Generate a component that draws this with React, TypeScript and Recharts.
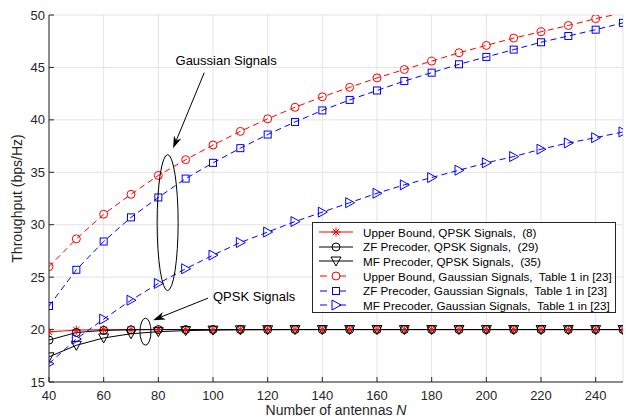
import React from 'react';
import {
  CartesianGrid,
  Line,
  LineChart,
  ReferenceDot,
  ReferenceLine,
  XAxis,
  YAxis,
} from 'recharts';

const antennas = [40, 50, 60, 70, 80, 90, 100, 110, 120, 130, 140, 150, 160, 170, 180, 190, 200, 210, 220, 230, 240, 250];

const upperQpsk = [19.78, 19.95, 19.99, 20, 20, 20, 20, 20, 20, 20, 20, 20, 20, 20, 20, 20, 20, 20, 20, 20, 20, 20];
const zfQpsk = [19.0, 19.72, 19.92, 19.98, 20, 20, 20, 20, 20, 20, 20, 20, 20, 20, 20, 20, 20, 20, 20, 20, 20, 20];
const mfQpsk = [17.4, 18.5, 19.2, 19.6, 19.8, 19.9, 19.95, 19.98, 19.99, 20, 20, 20, 20, 20, 20, 20, 20, 20, 20, 20, 20, 20];
const upperGauss = [26.0, 28.65, 31.0, 32.9, 34.7, 36.2, 37.6, 38.9, 40.1, 41.2, 42.2, 43.1, 44.0, 44.8, 45.6, 46.4, 47.1, 47.8, 48.4, 49.0, 49.65, 50.2];
const zfGauss = [22.25, 25.7, 28.4, 30.7, 32.6, 34.4, 35.9, 37.3, 38.6, 39.8, 40.9, 41.9, 42.8, 43.7, 44.5, 45.3, 46.0, 46.7, 47.4, 48.0, 48.6, 49.25];
const mfGauss = [16.75, 19.1, 21.0, 22.8, 24.4, 25.8, 27.1, 28.3, 29.3, 30.3, 31.2, 32.1, 33.0, 33.8, 34.5, 35.2, 35.9, 36.5, 37.2, 37.8, 38.3, 38.85];

const xTicks = [40, 60, 80, 100, 120, 140, 160, 180, 200, 220, 240];
const yTicks = [15, 20, 25, 30, 35, 40, 45, 50];

const data = antennas.map((n, i) => ({
  n,
  upperQpsk: upperQpsk[i],
  zfQpsk: zfQpsk[i],
  mfQpsk: mfQpsk[i],
  upperGauss: upperGauss[i],
  zfGauss: zfGauss[i],
  mfGauss: mfGauss[i],
}));

const RED = '#ff0000';
const BLUE = '#0000ff';
const BLACK = '#000000';
const AXIS = '#262626';
const FONT = '"Liberation Sans", Arial, Helvetica, sans-serif';

type MarkerKind = 'star' | 'circle' | 'square' | 'triRight' | 'triDown';

const marker = (kind: MarkerKind, cx: number, cy: number, color: string) => {
  const common = { fill: 'none', stroke: color, strokeWidth: 1, strokeDasharray: 'none' };
  switch (kind) {
    case 'star':
      return (
        <g {...common}>
          <line x1={cx - 4.5} y1={cy} x2={cx + 4.5} y2={cy} />
          <line x1={cx} y1={cy - 4.5} x2={cx} y2={cy + 4.5} />
          <line x1={cx - 3.2} y1={cy - 3.2} x2={cx + 3.2} y2={cy + 3.2} />
          <line x1={cx - 3.2} y1={cy + 3.2} x2={cx + 3.2} y2={cy - 3.2} />
        </g>
      );
    case 'circle':
      return <circle cx={cx} cy={cy} r={4} {...common} />;
    case 'square':
      return <rect x={cx - 3.5} y={cy - 3.5} width={7} height={7} {...common} />;
    case 'triRight':
      return <polygon points={`${cx - 4},${cy - 5} ${cx + 5},${cy} ${cx - 4},${cy + 5}`} {...common} />;
    case 'triDown':
      return <polygon points={`${cx - 5},${cy - 4} ${cx + 5},${cy - 4} ${cx},${cy + 5}`} {...common} />;
  }
};

const makeDot = (kind: MarkerKind, color: string) => (props: any) => {
  const { cx, cy, index } = props;
  if (cx == null || cy == null || cy < 14) return <g key={`d-${index}`} />;
  return <g key={`d-${index}`}>{marker(kind, cx, cy, color)}</g>;
};

const series = [
  { key: 'upperQpsk', color: RED, kind: 'star' as MarkerKind, dashed: false, name: 'Upper Bound, QPSK Signals,  (8)' },
  { key: 'zfQpsk', color: BLACK, kind: 'circle' as MarkerKind, dashed: false, name: 'ZF Precoder, QPSK Signals,  (29)' },
  { key: 'mfQpsk', color: BLACK, kind: 'triDown' as MarkerKind, dashed: false, name: 'MF Precoder, QPSK Signals,  (35)' },
  { key: 'upperGauss', color: RED, kind: 'circle' as MarkerKind, dashed: true, name: 'Upper Bound, Gaussian Signals,  Table 1 in [23]' },
  { key: 'zfGauss', color: BLUE, kind: 'square' as MarkerKind, dashed: true, name: 'ZF Precoder, Gaussian Signals,  Table 1 in [23]' },
  { key: 'mfGauss', color: BLUE, kind: 'triRight' as MarkerKind, dashed: true, name: 'MF Precoder, Gaussian Signals,  Table 1 in [23]' },
];

const Arrow = (props: any) => {
  const { x1, y1, x2, y2 } = props;
  const dx = x2 - x1;
  const dy = y2 - y1;
  const len = Math.sqrt(dx * dx + dy * dy);
  const ux = dx / len;
  const uy = dy / len;
  const hl = 12;
  const hw = 4;
  const bx = x2 - ux * hl;
  const by = y2 - uy * hl;
  const ix = x2 - ux * hl * 0.7;
  const iy = y2 - uy * hl * 0.7;
  return (
    <g>
      <line x1={x1} y1={y1} x2={ix} y2={iy} stroke={BLACK} strokeWidth={1} />
      <polygon
        points={`${x2},${y2} ${bx - uy * hw},${by + ux * hw} ${ix},${iy} ${bx + uy * hw},${by - ux * hw}`}
        fill={BLACK}
      />
    </g>
  );
};

const ellipseShape = (rx: number, ry: number) => (props: any) => (
  <ellipse cx={props.cx} cy={props.cy} rx={rx} ry={ry} fill="none" stroke={BLACK} strokeWidth={1} />
);

const textShape = (text: string, anchor: 'start' | 'middle') => (props: any) => (
  <text x={props.cx} y={props.cy} textAnchor={anchor} dominantBaseline="central" fontSize={13} fontFamily={FONT} fill={BLACK}>
    {text}
  </text>
);

const YLabel = (props: any) => {
  const { viewBox } = props;
  const cx = 17;
  const cy = viewBox.y + viewBox.height / 2;
  return (
    <text x={cx} y={cy} transform={`rotate(-90, ${cx}, ${cy})`} textAnchor="middle" dominantBaseline="central" fontSize={14} fontFamily={FONT} fill={AXIS}>
      Throughput (bps/Hz)
    </text>
  );
};

const XLabel = (props: any) => {
  const { viewBox } = props;
  const cx = viewBox.x + viewBox.width / 2;
  return (
    <text x={cx} y={415} textAnchor="middle" fontSize={14} fontFamily={FONT} fill={AXIS}>
      Number of antennas <tspan fontStyle="italic">N</tspan>
    </text>
  );
};

const LegendBox = () => (
  <div
    style={{
      position: 'absolute',
      left: 312,
      top: 222,
      width: 304,
      height: 91,
      background: '#fff',
      border: `1px solid ${AXIS}`,
      fontFamily: FONT,
      fontSize: 11.7,
      color: BLACK,
      paddingTop: 2,
      boxSizing: 'border-box',
    }}
  >
    {series.map((s) => (
      <div key={s.key} style={{ display: 'flex', alignItems: 'center', height: 14.6, whiteSpace: 'pre' }}>
        <svg width={46} height={14} style={{ flex: 'none', marginLeft: 3 }}>
          <line x1={3} y1={7} x2={37} y2={7} stroke={s.color} strokeWidth={1} strokeDasharray={s.dashed ? '7 12' : undefined} strokeDashoffset={s.dashed ? -1 : 0} />
          {marker(s.kind, 20, 7, s.color)}
        </svg>
        <span style={{ marginLeft: 1 }}>{s.name}</span>
      </div>
    ))}
  </div>
);

export default function App() {
  return (
    <div style={{ position: 'absolute', left: 0, top: 0, width: 626, height: 419, background: '#fff' }}>
      <LineChart width={626} height={419} data={data} margin={{ top: 15, right: 3, bottom: 0, left: 0 }}>
        <CartesianGrid stroke="#e3e3e3" strokeWidth={1} />
        <XAxis
          dataKey="n"
          type="number"
          domain={[40, 250]}
          ticks={xTicks}
          allowDataOverflow
          height={37}
          stroke={AXIS}
          tickSize={-5}
          tickMargin={14}
          tick={{ fontSize: 13, fontFamily: FONT, fill: AXIS }}
          label={<XLabel />}
        />
        <XAxis
          xAxisId="top"
          dataKey="n"
          type="number"
          orientation="top"
          domain={[40, 250]}
          ticks={xTicks}
          allowDataOverflow
          height={0}
          stroke={AXIS}
          tickSize={-5}
          tick={false}
        />
        <YAxis
          type="number"
          domain={[15, 50]}
          ticks={yTicks}
          allowDataOverflow
          width={49}
          stroke={AXIS}
          tickSize={-5}
          tickMargin={9}
          tick={{ fontSize: 13, fontFamily: FONT, fill: AXIS }}
          label={<YLabel />}
        />
        <YAxis
          yAxisId="right"
          type="number"
          orientation="right"
          domain={[15, 50]}
          ticks={yTicks}
          allowDataOverflow
          width={0}
          stroke={AXIS}
          tickSize={-5}
          tick={false}
        />
        {series.map((s) => (
          <Line
            key={s.key}
            dataKey={s.key}
            type="linear"
            stroke={s.color}
            strokeWidth={1}
            strokeDasharray={s.dashed ? '6 4' : undefined}
            dot={makeDot(s.kind, s.color)}
            activeDot={false}
            isAnimationActive={false}
          />
        ))}
        <ReferenceDot x={83.4} y={30.2} r={0} shape={ellipseShape(10.5, 68)} ifOverflow="visible" />
        <ReferenceDot x={75.3} y={19.8} r={0} shape={ellipseShape(5.5, 13.5)} ifOverflow="visible" />
        <ReferenceLine segment={[{ x: 96.8, y: 44.5 }, { x: 85.4, y: 37.3 }]} shape={Arrow} ifOverflow="visible" />
        <ReferenceLine segment={[{ x: 98.2, y: 23.0 }, { x: 78.1, y: 20.9 }]} shape={Arrow} ifOverflow="visible" />
        <ReferenceDot x={104.8} y={45.7} r={0} shape={textShape('Gaussian Signals', 'middle')} ifOverflow="visible" />
        <ReferenceDot x={100} y={23.2} r={0} shape={textShape('QPSK Signals', 'start')} ifOverflow="visible" />
      </LineChart>
      <LegendBox />
    </div>
  );
}
